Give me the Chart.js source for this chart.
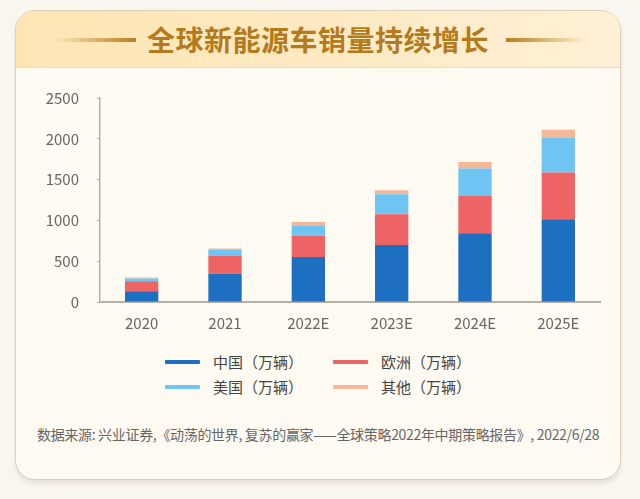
<!DOCTYPE html>
<html>
<head>
<meta charset="utf-8">
<script src="https://cdn.jsdelivr.net/npm/chart.js@4"></script>
<style>
  html, body { margin: 0; padding: 0; }
  body {
    width: 640px; height: 499px; overflow: hidden; position: relative;
    background: #f9f5ef;
    font-family: "Noto Sans CJK SC", "Noto Sans", sans-serif;
  }
  .card {
    position: absolute; left: 15px; top: 10px; width: 604px; height: 468px;
    border: 1px solid #ddd0ba; border-radius: 20px;
    background: #fffaf2; overflow: hidden;
    box-shadow: 0 4px 4px rgba(120, 100, 80, 0.12);
  }
  .head {
    position: absolute; left: 0; top: 0; width: 100%; height: 56px;
    background: linear-gradient(90deg, #fde6b4 0%, #fdeac2 50%, #fff0d6 100%);
    border-bottom: 1px solid #eadcc4;
  }
  .title {
    position: absolute; left: 0; width: 100%; top: 10px; text-align: center;
    font-size: 28px; font-weight: bold; color: #b47a1c; line-height: 36px;
    letter-spacing: 0.5px;
  }
  .deco { position: absolute; top: 27px; height: 4px; width: 80px; }
  .deco.l { left: 40px; background: linear-gradient(90deg, rgba(200,150,60,0), #b8801e); }
  .deco.r { left: 490px; background: linear-gradient(90deg, #b8801e, rgba(200,150,60,0)); }
  #wrap { position: absolute; left: 20px; top: 71px; width: 600px; height: 269px; }
  #legend {
    position: absolute; left: 165px; top: 352px; width: 330px;
    display: grid; grid-template-columns: 168px 160px; row-gap: 5px;
    font-size: 15px; color: #444; line-height: 20px;
  }
  #legend .item { display: flex; align-items: center; }
  #legend .sw { width: 35px; height: 4px; margin-right: 13px; border-radius: 1px; }
  .foot {
    position: absolute; left: 37px; top: 424px; font-size: 14px; color: #666;
    white-space: nowrap; letter-spacing: -0.32px;
  }
</style>
</head>
<body>
<div class="card">
  <div class="head">
    <div class="deco l"></div>
    <div class="title">全球新能源车销量持续增长</div>
    <div class="deco r"></div>
  </div>
</div>
<div id="wrap"><canvas id="myChart"></canvas></div>
<div id="legend"></div>
<div class="foot">数据来源: 兴业证券,《动荡的世界, 复苏的赢家——全球策略2022年中期策略报告》, 2022/6/28</div>

<script>
// categories and series (万辆)
var years = ['2020', '2021', '2022E', '2023E', '2024E', '2025E'];
var china = [133, 346, 551, 698, 841, 1013];
var europe = [120, 225, 262, 377, 459, 574];
var usa = [34, 65, 118, 246, 336, 430];
var other = [14, 21, 49, 49, 81, 94];
var yTicks = [0, 500, 1000, 1500, 2000, 2500];

var names = ['中国（万辆）', '欧洲（万辆）', '美国（万辆）', '其他（万辆）'];
var colors = ['#1d6fc2', '#ee6363', '#6ec5f4', '#f4b898'];
var series = [china, europe, usa, other];

var data = {
  labels: years,
  datasets: series.map(function (s, i) {
    return {
      label: names[i],
      data: s,
      backgroundColor: colors[i],
      barPercentage: 0.5,
      categoryPercentage: 0.8
    };
  })
};

var tickFont = { family: '"Noto Sans CJK SC", "Noto Sans", sans-serif', size: 15 };

var ctx = document.getElementById('myChart').getContext('2d');
var myChart = new Chart(ctx, {
  type: 'bar',
  data: data,
  options: {
    responsive: true,
    maintainAspectRatio: false,
    animation: false,
    layout: { padding: { top: 0, right: 20, left: 0, bottom: 0 } },
    plugins: { legend: { display: false }, tooltip: { enabled: false } },
    scales: {
      x: {
        stacked: true,
        grid: { display: false },
        border: { color: '#b8afa4', width: 2 },
        ticks: { color: '#666', font: tickFont, padding: 4 },
        afterFit: function (s) { s.height = 38; }
      },
      y: {
        stacked: true,
        min: 0,
        max: yTicks[yTicks.length - 1],
        afterBuildTicks: function (s) { s.ticks = yTicks.map(function (v) { return { value: v }; }); },
        grid: { drawOnChartArea: false, tickLength: 3, color: '#b8afa4' },
        border: { color: '#b8afa4', width: 1.5 },
        ticks: { color: '#666', font: tickFont, padding: 18, callback: function (v) { return String(v); } },
        afterFit: function (s) { s.width = 80; }
      }
    }
  }
});

// html legend in two columns, built from the chart's datasets
var legend = document.getElementById('legend');
myChart.data.datasets.forEach(function (ds) {
  var item = document.createElement('div');
  item.className = 'item';
  item.innerHTML = '<span class="sw" style="background:' + ds.backgroundColor + '"></span><span>' + ds.label + '</span>';
  legend.appendChild(item);
});
</script>
</body>
</html>
